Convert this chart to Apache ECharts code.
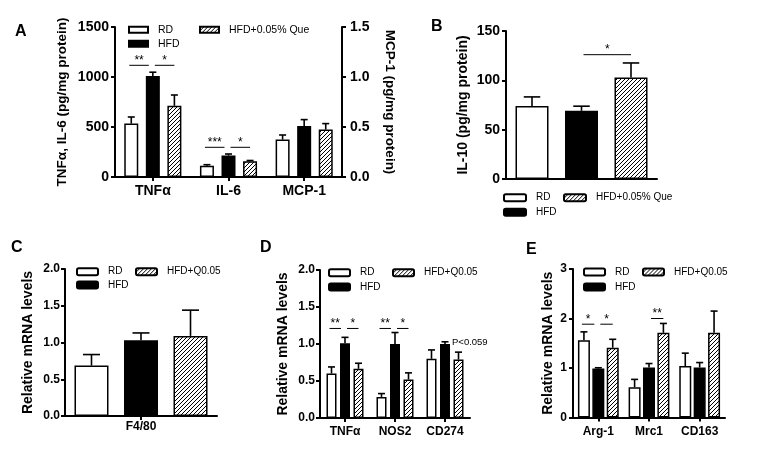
<!DOCTYPE html>
<html>
<head>
<meta charset="utf-8">
<script src="https://cdn.jsdelivr.net/npm/echarts/dist/echarts.min.js"></script>
<style>html,body{margin:0;padding:0;background:#fff}#chart{width:768px;height:452px}</style>
</head>
<body>
<div id="chart"></div>
<script>
// ---------------- DATA ----------------
const groupsQue = ['RD', 'HFD', 'HFD+0.05% Que'];
const groupsQ = ['RD', 'HFD', 'HFD+Q0.05'];

// Panel A (TNFα, IL-6 on left axis; MCP-1 on right axis)
const catsA = ['TNFα', 'IL-6', 'MCP-1'];
const rightCatsA = ['MCP-1'];
const aRD = [534, 113, 0.374];
const aRDsem = [66, 10, 0.046];
const aHFD = [1010, 215, 0.51];
const aHFDsem = [38, 15, 0.064];
const aQue = [712, 157, 0.474];
const aQuesem = [108, 8, 0.06];
const ticksALeft = [0, 500, 1000, 1500];
const ticksARight = [0, 0.5, 1.0, 1.5];
const sigA = [[0, 0, 1, 1117, '**'], [0, 1, 2, 1117, '*'], [1, 0, 1, 297, '***'], [1, 1, 2, 297, '*']];

// Panel B (IL-10)
const catsB = [''];
const bRD = [74.1], bRDsem = [9.1];
const bHFD = [69.1], bHFDsem = [4.7];
const bQue = [102.9], bQuesem = [14.7];
const ticksB = [0, 50, 100, 150];
const sigB = [[0, 1, 2, 126, '*']];

// Panel C (F4/80)
const catsC = ['F4/80'];
const cRD = [0.686], cRDsem = [0.15];
const cHFD = [1.03], cHFDsem = [0.10];
const cQue = [1.09], cQuesem = [0.35];
const ticksC = [0, 0.5, 1.0, 1.5, 2.0];

// Panel D (M1 markers)
const catsD = ['TNFα', 'NOS2', 'CD274'];
const dRD = [0.60, 0.285, 0.80], dRDsem = [0.09, 0.045, 0.12];
const dHFD = [1.01, 1.0, 1.0], dHFDsem = [0.08, 0.155, 0.03];
const dQue = [0.665, 0.52, 0.79], dQuesem = [0.075, 0.09, 0.10];
const ticksD = [0, 0.5, 1.0, 1.5, 2.0];
const sigD = [[0, 0, 1, 1.21, '**'], [0, 1, 2, 1.21, '*'], [1, 0, 1, 1.21, '**'], [1, 1, 2, 1.21, '*']];
const noteD = [[2, 1, 1.02, 'P<0.059']];

// Panel E (M2 markers)
const catsE = ['Arg-1', 'Mrc1', 'CD163'];
const eRD = [1.56, 0.61, 1.04], eRDsem = [0.17, 0.16, 0.26];
const eHFD = [0.99, 1.01, 1.01], eHFDsem = [0.015, 0.08, 0.10];
const eQue = [1.41, 1.71, 1.71], eQuesem = [0.17, 0.19, 0.44];
const ticksE = [0, 1, 2, 3];
const sigE = [[0, 0, 1, 1.885, '*'], [0, 1, 2, 1.885, '*'], [1, 1, 2, 2.0, '**']];

// ---------------- STYLE / BUILD ----------------
const FONT = '"Liberation Sans", Arial, Helvetica, sans-serif';
const hatch = (function () {
  const c = document.createElement('canvas');
  c.width = 4; c.height = 4;
  const g = c.getContext('2d');
  g.fillStyle = '#fff'; g.fillRect(0, 0, 4, 4);
  g.fillStyle = '#000';
  for (let i = 0; i < 4; i++) g.fillRect(i, 3 - i, 1, 1);
  return c;
})();
const FILLS = ['#ffffff', '#000000', { image: hatch, repeat: 'repeat' }];

const option = {
  animation: false,
  backgroundColor: '#fff',
  textStyle: { fontFamily: FONT },
  grid: [], xAxis: [], yAxis: [], series: [], legend: [], graphic: []
};

const fmt1 = v => Number(v).toFixed(1);
const fmt0 = v => String(v);

function yDef(gi, ticks, fmt, pos, font, margin, name, gap, nameFont, rot) {
  return {
    type: 'value', gridIndex: gi, position: pos,
    min: ticks[0], max: ticks[ticks.length - 1], interval: ticks[1] - ticks[0],
    axisLine: { show: true, lineStyle: { color: '#000', width: 2 } },
    axisTick: { show: true, length: 4, lineStyle: { color: '#000', width: 2 } },
    splitLine: { show: false },
    axisLabel: { color: '#000', fontWeight: 'bold', fontSize: font, margin: margin, fontFamily: FONT, formatter: fmt },
    name: name, nameLocation: 'middle', nameGap: gap, nameRotate: rot,
    nameTextStyle: { color: '#000', fontWeight: 'bold', fontSize: nameFont, fontFamily: FONT }
  };
}

function addPanel(p) {
  const gi = option.grid.length;
  option.grid.push(p.grid);
  const xi = option.xAxis.length;
  option.xAxis.push({
    type: 'category', gridIndex: gi, data: p.cats,
    axisLine: { show: true, onZero: false, lineStyle: { color: '#000', width: 2 } },
    axisTick: p.xTick ? { show: true, alignWithLabel: true, length: 4, lineStyle: { color: '#000', width: 2 } } : { show: false },
    axisLabel: { show: p.xLabel, color: '#000', fontWeight: 'bold', fontSize: p.xFont, margin: p.xMargin, fontFamily: FONT, interval: 0 }
  });
  const yi = option.yAxis.length;
  option.yAxis.push(yDef(gi, p.ticks, p.fmt, 'left', p.yFont, p.yMargin, p.yName, p.yNameGap, p.yNameFont, 90));
  let xi2 = xi, yi2 = yi;
  if (p.right) {
    xi2 = option.xAxis.length;
    option.xAxis.push({ type: 'category', gridIndex: gi, data: p.cats, show: false });
    yi2 = option.yAxis.length;
    option.yAxis.push(yDef(gi, p.right.ticks, p.right.fmt, 'right', p.yFont, p.right.margin, p.right.name, p.right.gap, p.yNameFont, -90));
  }
  const w = p.barWidth;
  const step = w * (1 + p.barGap);
  const cap = Math.max(w * 0.5, 7);
  const isRight = k => !!p.right && p.right.cats.indexOf(p.cats[k]) >= 0;

  p.means.forEach((m, g) => {
    const sem = p.sems[g];
    const off = (g - 1) * step;
    const sides = p.right ? [false, true] : [false];
    sides.forEach(side => {
      const xa = side ? xi2 : xi, ya = side ? yi2 : yi;
      option.series.push({
        type: 'bar', name: p.groups[g], xAxisIndex: xa, yAxisIndex: ya,
        data: m.map((v, k) => (isRight(k) === side ? v : '-')),
        barWidth: w, barGap: (p.barGap * 100) + '%',
        itemStyle: { color: FILLS[g], borderColor: '#000', borderWidth: 1.5 },
        silent: true, z: 2
      });
      const errData = [];
      m.forEach((v, k) => { if (isRight(k) === side) errData.push([k, v, v + sem[k]]); });
      option.series.push({
        type: 'custom', xAxisIndex: xa, yAxisIndex: ya, data: errData, silent: true, z: 3,
        encode: { x: 0, y: 1 },
        renderItem: (params, api) => {
          const c = api.coord([api.value(0), api.value(1)]);
          const t = api.coord([api.value(0), api.value(2)]);
          const x = c[0] + off;
          const s = { stroke: '#000', lineWidth: 1.6 };
          return { type: 'group', children: [
            { type: 'line', shape: { x1: x, y1: c[1], x2: x, y2: t[1] }, style: s },
            { type: 'line', shape: { x1: x - cap / 2, y1: t[1], x2: x + cap / 2, y2: t[1] }, style: s }
          ] };
        }
      });
    });
  });

  if (p.sig) {
    option.series.push({
      type: 'custom', xAxisIndex: xi, yAxisIndex: yi, silent: true, z: 4,
      data: p.sig.map(s => [s[0], s[3]]), encode: { x: 0, y: 1 },
      renderItem: (params, api) => {
        const s = p.sig[params.dataIndex];
        const c = api.coord([s[0], s[3]]);
        const cx = j => c[0] + (j - 1) * step;
        const x1 = cx(s[1]) + (s[1] === 1 ? 2 : -2);
        const x2 = cx(s[2]) + (s[2] === 1 ? -4 : 0);
        return { type: 'group', children: [
          { type: 'line', shape: { x1: x1, y1: c[1], x2: x2, y2: c[1] }, style: { stroke: '#000', lineWidth: 1 } },
          { type: 'text', style: { text: s[4], x: (x1 + x2) / 2, y: c[1] - 5, align: 'center', verticalAlign: 'middle', font: '12px ' + FONT, fill: '#000' } }
        ] };
      }
    });
  }
  if (p.note) {
    option.series.push({
      type: 'custom', xAxisIndex: xi, yAxisIndex: yi, silent: true, z: 4,
      data: p.note.map(s => [s[0], s[2]]), encode: { x: 0, y: 1 },
      renderItem: (params, api) => {
        const s = p.note[params.dataIndex];
        const c = api.coord([s[0], s[2]]);
        const x = c[0] + (s[1] - 1) * step + w / 2 + 2;
        return { type: 'text', style: { text: s[3], x: x, y: c[1], align: 'left', verticalAlign: 'middle', font: '9.5px ' + FONT, fill: '#000' } };
      }
    });
  }

  // legend: one component per item
  p.legendPos.forEach((pos, g) => {
    option.legend.push({
      data: [p.groups[g]], left: pos[0], top: pos[1] - p.legFont / 2, padding: 0,
      icon: p.legIcon, itemWidth: p.legW, itemHeight: p.legH, selectedMode: false,
      textStyle: { fontSize: p.legFont, color: '#000', fontFamily: FONT, padding: [0, 0, 0, 5] }
    });
  });

  option.graphic.push({ type: 'text', left: p.letter[1], top: p.letter[2], style: { text: p.letter[0], font: 'bold 16px ' + FONT, fill: '#000' } });
}

addPanel({
  grid: { left: 115, top: 27, width: 227, height: 150 },
  cats: catsA, groups: groupsQue,
  means: [aRD, aHFD, aQue], sems: [aRDsem, aHFDsem, aQuesem],
  ticks: ticksALeft, fmt: fmt0, yFont: 14, yMargin: 6,
  yName: 'TNFα, IL-6 (pg/mg protein)', yNameGap: 46, yNameFont: 13.5,
  right: { cats: rightCatsA, ticks: ticksARight, fmt: fmt1, margin: 8, name: 'MCP-1 (pg/mg protein)', gap: 41 },
  xTick: true, xLabel: true, xFont: 14, xMargin: 7,
  barWidth: 14, barGap: 0.54,
  sig: sigA,
  legendPos: [[128, 29.5], [128, 43.5], [199, 29.5]], legIcon: 'rect', legW: 19, legH: 6, legFont: 10.5,
  letter: ['A', 15, 24]
});

addPanel({
  grid: { left: 506, top: 31, width: 151, height: 148 },
  cats: catsB, groups: groupsQue,
  means: [bRD, bHFD, bQue], sems: [bRDsem, bHFDsem, bQuesem],
  ticks: ticksB, fmt: fmt0, yFont: 14, yMargin: 6,
  yName: 'IL-10 (pg/mg protein)', yNameGap: 36, yNameFont: 14,
  xTick: false, xLabel: false, xFont: 12, xMargin: 6,
  barWidth: 33, barGap: 0.5,
  sig: sigB,
  legendPos: [[503, 197.7], [503, 212.3], [563, 197.7]], legIcon: 'roundRect', legW: 22, legH: 7, legFont: 10,
  letter: ['B', 431, 19]
});

addPanel({
  grid: { left: 65, top: 269, width: 152, height: 147 },
  cats: catsC, groups: groupsQ,
  means: [cRD, cHFD, cQue], sems: [cRDsem, cHFDsem, cQuesem],
  ticks: ticksC, fmt: fmt1, yFont: 12, yMargin: 5,
  yName: 'Relative mRNA levels', yNameGap: 30, yNameFont: 14,
  xTick: true, xLabel: true, xFont: 12, xMargin: 5,
  barWidth: 34, barGap: 0.456,
  legendPos: [[76, 271.7], [76, 285], [135, 271.7]], legIcon: 'roundRect', legW: 21, legH: 7, legFont: 10,
  letter: ['C', 11, 240]
});

addPanel({
  grid: { left: 320, top: 270, width: 150, height: 148 },
  cats: catsD, groups: groupsQ,
  means: [dRD, dHFD, dQue], sems: [dRDsem, dHFDsem, dQuesem],
  ticks: ticksD, fmt: fmt1, yFont: 12, yMargin: 5,
  yName: 'Relative mRNA levels', yNameGap: 30, yNameFont: 14,
  xTick: true, xLabel: true, xFont: 12, xMargin: 8,
  barWidth: 10, barGap: 0.35,
  sig: sigD, note: noteD,
  legendPos: [[328, 272.7], [328, 287], [392, 272.7]], legIcon: 'roundRect', legW: 21, legH: 7, legFont: 10,
  letter: ['D', 260, 240]
});

addPanel({
  grid: { left: 573, top: 269, width: 152, height: 148.5 },
  cats: catsE, groups: groupsQ,
  means: [eRD, eHFD, eQue], sems: [eRDsem, eHFDsem, eQuesem],
  ticks: ticksE, fmt: fmt0, yFont: 12, yMargin: 6,
  yName: 'Relative mRNA levels', yNameGap: 18, yNameFont: 14,
  xTick: true, xLabel: true, xFont: 12, xMargin: 8,
  barWidth: 12, barGap: 0.2,
  sig: sigE,
  legendPos: [[583, 272], [583, 287], [642, 272]], legIcon: 'roundRect', legW: 21, legH: 7, legFont: 10,
  letter: ['E', 526, 242]
});

const chart = echarts.init(document.getElementById('chart'), null, { renderer: 'canvas' });
chart.setOption(option);
</script>
</body>
</html>
